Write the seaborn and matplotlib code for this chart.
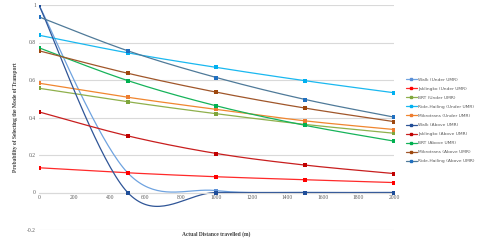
import numpy as np
import pandas as pd
import matplotlib
matplotlib.use("Agg")
import matplotlib.pyplot as plt
import seaborn as sns
from matplotlib.lines import Line2D

# data
dist = [0, 500, 1000, 1500, 2000]
walk_under = [1.0, 0.105, 0.01, 0.0, 0.0]
jak_under = [0.132, 0.105, 0.084, 0.068, 0.053]
brt_under = [0.556, 0.484, 0.420, 0.363, 0.316]
ride_under = [0.839, 0.745, 0.667, 0.596, 0.532]
mikro_under = [0.583, 0.508, 0.443, 0.382, 0.336]
walk_above = [1.0, 0.0, 0.0, 0.0, 0.0]
jak_above = [0.430, 0.302, 0.208, 0.146, 0.101]
brt_above = [0.772, 0.597, 0.462, 0.358, 0.274]
mikro_above = [0.756, 0.636, 0.535, 0.450, 0.378]
ride_above = [0.937, 0.756, 0.613, 0.496, 0.402]

labels = ["Walk (Under UMR)", "Jaklingko (Under UMR)", "BRT (Under UMR)",
          "Ride-Hailing (Under UMR)", "Mikrotrans (Under UMR)",
          "Walk (Above UMR)", "Jaklingko (Above UMR)", "BRT (Above UMR)",
          "Mikrotrans (Above UMR)", "Ride-Hailing (Above UMR)"]
series = [walk_under, jak_under, brt_under, ride_under, mikro_under,
          walk_above, jak_above, brt_above, mikro_above, ride_above]
line_colors = ["#6fa3e0", "#ff2a2a", "#8fb04c", "#1ab8f0", "#f0862f",
               "#2f5597", "#c81e1e", "#16b35a", "#a0562a", "#4f7a99"]
marker_colors = ["#5b8fd6", "#ff0000", "#7fa63c", "#00b0f0", "#ed7d31",
                 "#1f4e99", "#c00000", "#00b050", "#9e480e", "#1f6fc0"]


def smooth(xs, ys, n=40):
    # excel style smoothed line (catmull-rom through the points)
    p = np.column_stack([xs, ys]).astype(float)
    p = np.vstack([p[0], p, p[-1]])
    out = []
    t = np.linspace(0, 1, n)[:, None]
    for i in range(1, len(p) - 2):
        p0, p1, p2, p3 = p[i - 1], p[i], p[i + 1], p[i + 2]
        m1 = (p2 - p0) / 2
        m2 = (p3 - p1) / 2
        h00 = 2 * t**3 - 3 * t**2 + 1
        h10 = t**3 - 2 * t**2 + t
        h01 = -2 * t**3 + 3 * t**2
        h11 = t**3 - t**2
        out.append(h00 * p1 + h10 * m1 + h01 * p2 + h11 * m2)
    return np.vstack(out)


sns.set_theme(style="white")
fig, ax = plt.subplots(figsize=(4.8, 2.5), dpi=100)
fig.subplots_adjust(left=0.081, right=0.821, top=0.98, bottom=0.08)

handles = []
for lab, ys, lc, mc in zip(labels, series, line_colors, marker_colors):
    curve = smooth(dist, ys)
    sns.lineplot(x=curve[:, 0], y=curve[:, 1], sort=False, ax=ax,
                 color=lc, lw=0.9, estimator=None)
    sns.scatterplot(x=dist, y=ys, ax=ax, color=mc, marker="s", s=5,
                    linewidth=0, zorder=3)
    handles.append(Line2D([], [], color=lc, lw=0.9, marker="s",
                          markersize=2, markerfacecolor=mc, markeredgecolor=mc))

ax.set_xlim(0, 2000)
ax.set_ylim(-0.2, 1.0)
ax.set_xticks(np.arange(0, 2001, 200))
ax.set_yticks([-0.2, 0, 0.2, 0.4, 0.6, 0.8, 1.0])
ax.set_yticklabels(["-0.2", "0", "0.2", "0.4", "0.6", "0.8", "1"])
ax.yaxis.grid(True, color="#d9d9d9", lw=0.8)
for s in ["left", "right", "top"]:
    ax.spines[s].set_visible(False)
ax.spines["bottom"].set_position(("data", 0))
ax.spines["bottom"].set_color("#d9d9d9")
ax.spines["bottom"].set_linewidth(0.8)
ax.tick_params(axis="both", labelsize=4, colors="#595959", length=0, pad=2)
for t in ax.get_xticklabels() + ax.get_yticklabels():
    t.set_family("Liberation Serif")

ax.set_xlabel("")
fig.text(0.451, 0.064, "Actual Distance travelled (m)", ha="center", va="center",
         fontsize=4.0, family="Liberation Serif", weight="bold", color="#404040")
fig.text(0.033, 0.53, "Probability of Selecting the Mode of Transport", rotation=90,
         ha="center", va="center", fontsize=4.0, family="Liberation Serif",
         weight="bold", color="#404040")

fig.legend(handles, labels, loc="upper left", bbox_to_anchor=(0.846, 0.69),
           frameon=False, fontsize=3.2, handlelength=2.4, labelspacing=1.12,
           handletextpad=0.3, borderpad=0, borderaxespad=0,
           labelcolor="#595959")

plt.savefig("out.png", dpi=100)
